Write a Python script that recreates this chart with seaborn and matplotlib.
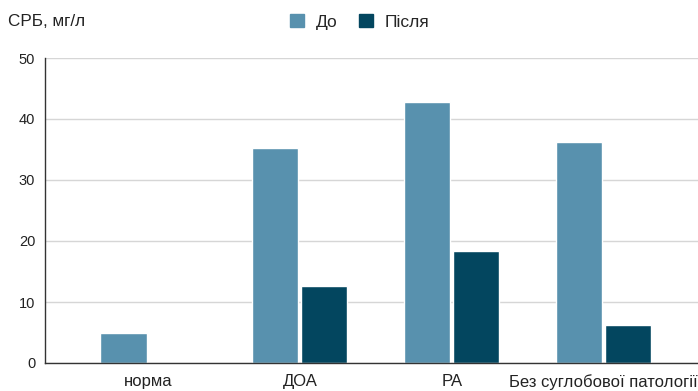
import numpy as np
import pandas as pd
import seaborn as sns
import matplotlib.pyplot as plt

categories = ['норма', 'ДОА', 'РА', 'Без суглобової патології']
before = [5.0, 35.2, 42.8, 36.3]
after = [np.nan, 12.6, 18.4, 6.2]
series = ['До', 'Після']
colors = ['#5891ae', '#03465f']

df = pd.DataFrame({
    'cat': categories * 2,
    'val': before + after,
    'series': [series[0]] * 4 + [series[1]] * 4,
})

sns.set_style('white')
plt.rcParams['font.family'] = ['Liberation Sans', 'DejaVu Sans']

fig = plt.figure(figsize=(6.98, 3.91), dpi=100)
ax = fig.add_axes([45 / 698, 1 - 363 / 391, 1 - 45 / 698, (363 - 58) / 391])

sns.barplot(data=df, x='cat', y='val', hue='series', palette=colors,
            width=0.645, gap=0.06, ax=ax, legend=False, saturation=1)

ax.set_ylim(0, 50)
ax.set_yticks([0, 10, 20, 30, 40, 50])
ax.set_xlim(-0.678, 3.62)
ax.grid(axis='y', color='#d6d6d6', linewidth=1)
ax.set_axisbelow(True)
for s in ['top', 'right']:
    ax.spines[s].set_visible(False)
for s in ['left', 'bottom']:
    ax.spines[s].set_color('#333333')
    ax.spines[s].set_linewidth(1)
ax.tick_params(axis='y', labelsize=10.5, colors='#222222', length=0, pad=7)
ax.tick_params(axis='x', labelsize=12, colors='#222222', length=0, pad=8)
ax.set_xlabel('')
ax.set_ylabel('')

fig.text(8 / 698, 1 - 22 / 391, 'СРБ, мг/л', fontsize=12.3, color='#222222', va='center')

handles = [plt.Rectangle((0, 0), 1, 1, color=c) for c in colors]
fig.legend(handles, series, loc='center', bbox_to_anchor=(360 / 698, 1 - 22 / 391),
           ncol=2, frameon=False, fontsize=12.5, handlelength=0.8, handleheight=0.8,
           columnspacing=1.2, handletextpad=0.7)

plt.savefig('out.png', dpi=100)
